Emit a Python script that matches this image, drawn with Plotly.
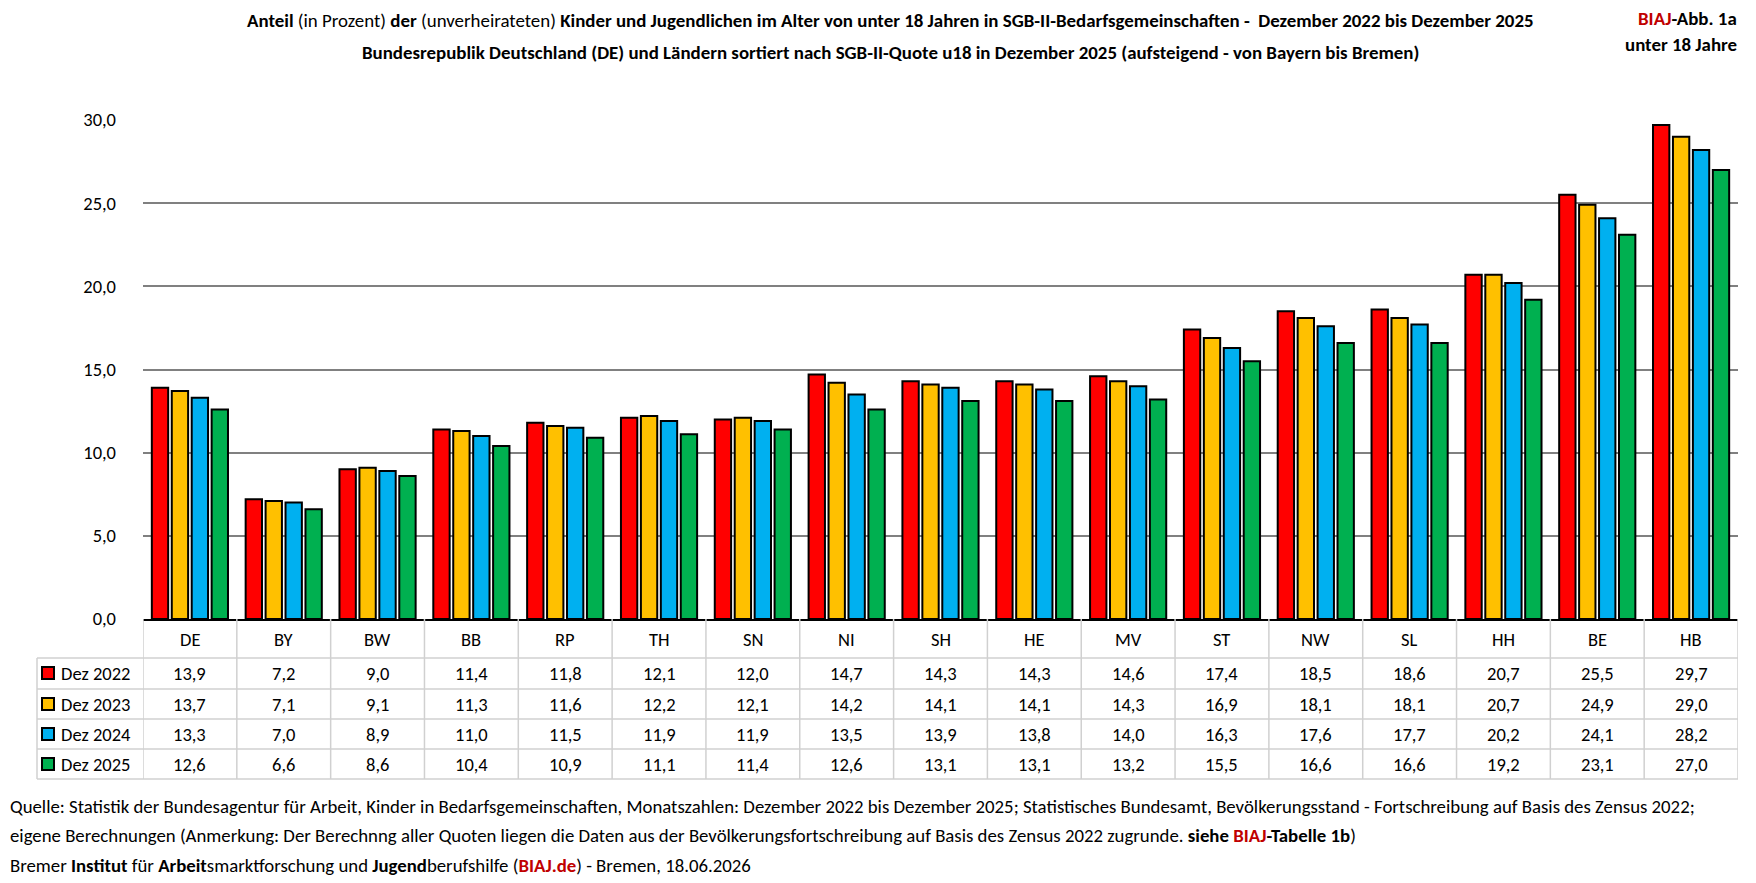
import plotly.graph_objects as go

categories = ["DE", "BY", "BW", "BB", "RP", "TH", "SN", "NI", "SH", "HE", "MV", "ST", "NW", "SL", "HH", "BE", "HB"]
series_names = ["Dez 2022", "Dez 2023", "Dez 2024", "Dez 2025"]
dez2022 = [13.9, 7.2, 9.0, 11.4, 11.8, 12.1, 12.0, 14.7, 14.3, 14.3, 14.6, 17.4, 18.5, 18.6, 20.7, 25.5, 29.7]
dez2023 = [13.7, 7.1, 9.1, 11.3, 11.6, 12.2, 12.1, 14.2, 14.1, 14.1, 14.3, 16.9, 18.1, 18.1, 20.7, 24.9, 29.0]
dez2024 = [13.3, 7.0, 8.9, 11.0, 11.5, 11.9, 11.9, 13.5, 13.9, 13.8, 14.0, 16.3, 17.6, 17.7, 20.2, 24.1, 28.2]
dez2025 = [12.6, 6.6, 8.6, 10.4, 10.9, 11.1, 11.4, 12.6, 13.1, 13.1, 13.2, 15.5, 16.6, 16.6, 19.2, 23.1, 27.0]
series_values = [dez2022, dez2023, dez2024, dez2025]
colors = ["#FF0000", "#FFC000", "#00B0F0", "#00B050"]
y_ticks = [0, 5, 10, 15, 20, 25, 30]

FONT = "Carlito, Calibri, Lato, 'Liberation Sans', sans-serif"
W, H = 1756, 883
L, R, T, B = 143, 1738, 120, 619  # plot area in pixels

def px(xp):
    return (xp - L) / (R - L)

def py(yp):
    return (B - yp) / (B - T)

fig = go.Figure()
for name, vals, col in zip(series_names, series_values, colors):
    fig.add_trace(go.Bar(
        x=categories, y=vals, name=name,
        marker=dict(color=col, line=dict(color="black", width=2)),
        showlegend=False,
    ))

def fmt(v):
    return f"{v:.1f}".replace(".", ",")

annotations = []
shapes = []

def ann(**kw):
    base = dict(showarrow=False, xanchor="center", yanchor="middle")
    base.update(kw)
    annotations.append(base)

# Table rows
header_y = 639
row_bounds = [658, 689, 719, 749, 779]
row_centers = [673, 704, 734, 764]
grid_col = "#D0D0D0"
TF = dict(size=18.5, color="#000000", family=FONT)

for i, c in enumerate(categories):
    ann(x=c, xref="x", y=py(header_y), yref="paper", text=c, font=TF)
    for r, vals in enumerate(series_values):
        ann(x=c, xref="x", y=py(row_centers[r]), yref="paper", text=fmt(vals[i]), font=TF)

# vertical table lines
for i in range(len(categories) + 1):
    shapes.append(dict(type="line", xref="x", yref="paper", x0=i - 0.5, x1=i - 0.5,
                       y0=py(B), y1=py(row_bounds[-1]), line=dict(color=grid_col, width=1.5)))
# left legend column border
shapes.append(dict(type="line", xref="paper", yref="paper", x0=px(37), x1=px(37),
                   y0=py(row_bounds[0]), y1=py(row_bounds[-1]), line=dict(color=grid_col, width=1.5)))
# horizontal lines
for yb in row_bounds:
    shapes.append(dict(type="line", xref="paper", yref="paper", x0=px(37), x1=1,
                       y0=py(yb), y1=py(yb), line=dict(color=grid_col, width=1.5)))

# legend entries
for r, (name, col) in enumerate(zip(series_names, colors)):
    yc = row_centers[r]
    shapes.append(dict(type="rect", xref="paper", yref="paper", x0=px(42), x1=px(54),
                       y0=py(yc + 6), y1=py(yc - 6), fillcolor=col, line=dict(color="black", width=2)))
    ann(x=px(59), xref="paper", y=py(yc), yref="paper", text=name, xanchor="left", font=TF)

# title
HF = dict(size=18.9, color="#000000", family=FONT)
title1 = ("<b>Anteil</b> (in Prozent) <b>der</b> (unverheirateten) <b>Kinder und Jugendlichen im Alter von unter 18 Jahren "
          "in SGB-II-Bedarfsgemeinschaften -  Dezember 2022 bis Dezember 2025</b>")
title2 = "<b>Bundesrepublik Deutschland (DE) und Ländern sortiert nach SGB-II-Quote u18 in Dezember 2025 (aufsteigend - von Bayern bis Bremen)</b>"
ann(x=px(890), xref="paper", y=py(21), yref="paper", text=title1, font=HF)
ann(x=px(890), xref="paper", y=py(53), yref="paper", text=title2, font=HF)
ann(x=px(1739), xref="paper", y=py(19), yref="paper", xanchor="right",
    text="<b><span style='color:#C00000'>BIAJ</span>-Abb. 1a</b>", font=HF)
ann(x=px(1739), xref="paper", y=py(44), yref="paper", xanchor="right",
    text="<b>unter 18 Jahre</b>", font=HF)

# footer
FF = dict(size=18.8, color="#000000", family=FONT)
foot1 = ("Quelle: Statistik der Bundesagentur für Arbeit, Kinder in Bedarfsgemeinschaften, Monatszahlen: Dezember 2022 bis Dezember 2025; "
         "Statistisches Bundesamt, Bevölkerungsstand - Fortschreibung auf Basis des Zensus 2022;")
foot2 = ("eigene Berechnungen (Anmerkung: Der Berechnng aller Quoten liegen die Daten aus der Bevölkerungsfortschreibung auf Basis "
         "des Zensus 2022 zugrunde. <b>siehe <span style='color:#C00000'>BIAJ</span>-Tabelle 1b</b>)")
foot3 = ("Bremer <b>Institut</b> für <b>Arbeit</b>smarktforschung und <b>Jugend</b>berufshilfe "
         "(<b><span style='color:#C00000'>BIAJ.de</span></b>) - Bremen, 18.06.2026")
for yy, txt in zip([806, 835, 865], [foot1, foot2, foot3]):
    ann(x=px(8), xref="paper", y=py(yy), yref="paper", xanchor="left", text=txt, font=FF)

fig.update_layout(
    width=W, height=H,
    margin=dict(l=L, r=W - R, t=T, b=H - B),
    paper_bgcolor="white", plot_bgcolor="white",
    barmode="group", bargap=0.15, bargroupgap=0.18,
    separators=",.",
    font=dict(family=FONT, size=18, color="#000000"),
    xaxis=dict(showticklabels=False, showgrid=False, showline=True, linecolor="black", linewidth=1.5,
               ticks="", range=[-0.5, len(categories) - 0.5]),
    yaxis=dict(range=[0, 30], tickvals=y_ticks, tickformat=".1f", showgrid=True, gridcolor="#808080",
               gridwidth=1.5, zeroline=False, showline=False, ticks="", ticklen=0,
               ticklabelstandoff=26,
               tickfont=dict(size=18.5, color="#000000", family=FONT)),
    annotations=annotations,
    shapes=shapes,
)

fig.write_html("out.html")
